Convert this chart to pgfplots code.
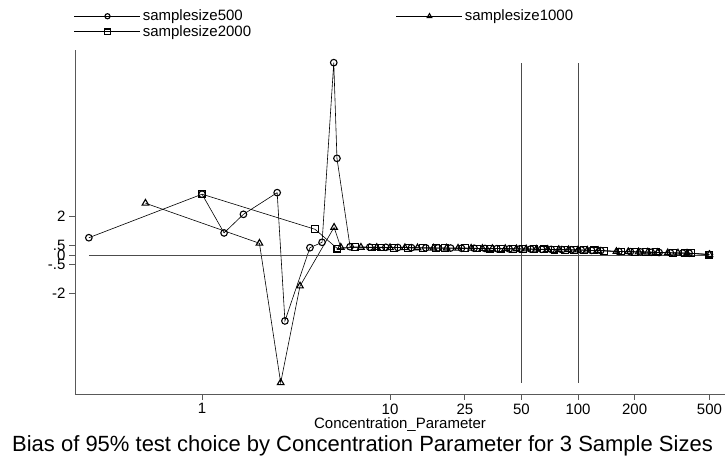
\documentclass[border=0pt]{standalone}
\usepackage{pgfplots}
\pgfplotsset{compat=1.18}
\usepackage{fontspec}
\setmainfont{Liberation Sans}
\begin{document}
\begin{tikzpicture}
\useasboundingbox (0,0) rectangle (725pt,462pt);
\begin{axis}[
  at={(75pt,68pt)}, anchor=south west,
  scale only axis, width=650pt, height=344pt,
  xmode=log, xmin=0.211, xmax=605,
  ymin=-7.25, ymax=10.69,
  axis x line*=bottom, axis y line*=left,
  axis line style={black!65, line width=0.9pt, -},
  xtick={1,10,25,50,100,200,500},
  xticklabels={1,10,25,50,100,200,500},
  xminorticks=false,
  ytick={-2,-0.5,0,0.5,2},
  yticklabels={-2,-.5,0,.5,2},
  tick align=outside,
  major tick length=6pt,
  tick style={black!65, line width=0.8pt},
  /pgf/number format/assume math mode=true,
  ticklabel style={font=\fontsize{15}{15}\selectfont},
  xlabel={Concentration\_Parameter},
  xlabel style={font=\fontsize{15}{15}\selectfont, yshift=3pt},
  legend columns=2,
  legend style={at={(0,1)}, anchor=south west, draw=none, fill=none,
    yshift=8pt, xshift=-4pt,
    font=\fontsize{15}{15}\selectfont,
    row sep=-1pt,
    /tikz/every even column/.append style={column sep=143pt}},
  legend cell align=left,
  legend image code/.code={
    \draw[mark repeat=2,mark phase=2,#1,mark size=2.6pt] plot coordinates {(0pt,0pt) (33pt,0pt) (66pt,0pt)};
  },
  clip=false,
]
\addplot[black, line width=0.6pt, mark=o, mark size=3.3pt, mark options={line width=1.1pt, solid}] coordinates {
(0.25,0.90) (1,3.17) (1.31,1.15) (1.66,2.12) (2.51,3.25) (2.76,-3.44) (3.75,0.38) (4.35,0.66) (5.02,10.03) (5.22,5.04) (6.13,0.43)
(7.8,0.41) (9.5,0.40) (11,0.39) (13,0.38) (15.5,0.37) (18,0.37) (21,0.36) (24,0.35) (28,0.35) (32,0.34) (37,0.33) (43,0.32) (49,0.32) (56,0.31) (64,0.30) (72,0.29) (82,0.28) (92,0.27) (104,0.26) (118,0.24) (132,0.23) (165,0.18) (190,0.17) (215,0.16) (245,0.14) (270,0.13) (310,0.11) (360,0.10) (390,0.09) (500,0.03)
};
\addlegendentry{samplesize500}
\addplot[black, line width=0.6pt, mark=triangle, mark size=3.8pt, mark options={line width=1.1pt, solid}] coordinates {
(0.50,2.70) (2.02,0.61) (2.62,-6.66) (3.32,-1.62) (5.04,1.44) (5.47,0.40)
(7,0.40) (8.5,0.39) (10,0.38) (12,0.38) (14,0.37) (17,0.36) (20,0.36) (23,0.35) (27,0.35) (31,0.34) (35,0.33) (41,0.33) (47,0.32) (53,0.31) (60,0.30) (69,0.29) (79,0.28) (89,0.27) (100,0.26) (112,0.25) (128,0.23) (160,0.18) (185,0.17) (210,0.16) (235,0.15) (265,0.13) (300,0.11) (340,0.10) (380,0.09) (500,0.02)
};
\addlegendentry{samplesize1000}
\addplot[black, line width=0.6pt, mark=square, mark size=3.4pt, mark options={line width=1.1pt, solid}] coordinates {
(1,3.17) (3.99,1.34) (5.25,0.33)
(6.5,0.40) (8,0.39) (9,0.39) (10.5,0.38) (12.5,0.38) (15,0.37) (17.5,0.36) (19.5,0.36) (25,0.35) (29,0.34) (34,0.33) (39,0.33) (45,0.32) (51,0.31) (58,0.30) (66,0.29) (75,0.28) (85,0.27) (95,0.26) (108,0.25) (122,0.24) (138,0.22) (170,0.18) (200,0.16) (230,0.15) (260,0.14) (320,0.11) (370,0.10) (400,0.09) (500,0.02)
};
\addlegendentry{samplesize2000}
\addplot[black!70, line width=0.9pt, forget plot] coordinates {(0.25,0) (500,0)};
\addplot[black!70, line width=0.9pt, forget plot] coordinates {(50,-6.66) (50,10.03)};
\addplot[black!70, line width=0.9pt, forget plot] coordinates {(100,-6.66) (100,10.03)};
\end{axis}
\node[anchor=base, font=\fontsize{22}{22}\selectfont] at (362.5pt,10pt) {Bias of 95\% test choice by Concentration Parameter for 3 Sample Sizes};
\end{tikzpicture}
\end{document}
